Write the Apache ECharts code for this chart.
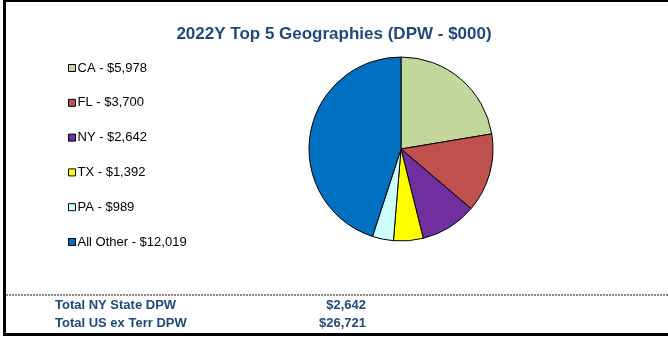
<!DOCTYPE html>
<html>
<head>
<meta charset="utf-8">
<script src="https://cdn.jsdelivr.net/npm/echarts@6/dist/echarts.min.js"></script>
<style>
  html, body { margin: 0; padding: 0; background: #fff; }
  #chart { width: 668px; height: 338px; }
</style>
</head>
<body>
<div id="chart"></div>
<script>
// Premium written by geography, 2022 ($000)
const geographies = ['CA', 'FL', 'NY', 'TX', 'PA', 'All Other'];
const dpwValues = [5978, 3700, 2642, 1392, 989, 12019];
const sliceColors = ['#C3D69B', '#C0504D', '#7030A0', '#FFFF00', '#CCFFFF', '#0070C0'];

// Summary rows under the chart
const summaryLabels = ['Total NY State DPW', 'Total US ex Terr DPW'];
const summaryValues = [2642, 26721];

const fmt = v => '$' + v.toLocaleString('en-US');
const navy = '#1F497D';
const FONT = 'Arial, "Liberation Sans", sans-serif';

const chart = echarts.init(document.getElementById('chart'), null, { renderer: 'canvas' });

const pieData = geographies.map((g, i) => ({
  name: g,
  value: dpwValues[i],
  itemStyle: { color: sliceColors[i] }
}));

const summaryGraphics = [];
summaryLabels.forEach((label, i) => {
  const y = 305 + i * 18;
  summaryGraphics.push({
    type: 'text', x: 55, y: y,
    style: { text: label, font: 'bold 13px ' + FONT, fill: navy, textVerticalAlign: 'middle' }
  });
  summaryGraphics.push({
    type: 'text', x: 366, y: y,
    style: { text: fmt(summaryValues[i]), font: 'bold 13px ' + FONT, fill: navy, textAlign: 'right', textVerticalAlign: 'middle' }
  });
});

chart.setOption({
  animation: false,
  backgroundColor: '#fff',
  title: {
    text: '2022Y Top 5 Geographies (DPW - $000)',
    left: 'center',
    top: 21,
    textStyle: { fontFamily: FONT, fontWeight: 'bold', fontSize: 17, color: navy }
  },
  legend: {
    orient: 'vertical',
    left: 63,
    top: 56,
    itemWidth: 7,
    itemHeight: 7,
    itemGap: 20.8,
    icon: 'rect',
    selectedMode: false,
    itemStyle: { borderColor: '#000', borderWidth: 1 },
    textStyle: { fontFamily: FONT, fontSize: 13, color: '#000', lineHeight: 14, padding: [0, 0, 0, -3] },
    formatter: name => name + ' - ' + fmt(dpwValues[geographies.indexOf(name)]),
    data: geographies
  },
  series: [{
    type: 'pie',
    center: [401, 149],
    radius: 92,
    startAngle: 90,
    clockwise: true,
    label: { show: false },
    labelLine: { show: false },
    emphasis: { disabled: true },
    itemStyle: { borderColor: '#000', borderWidth: 1 },
    data: pieData
  }],
  graphic: [
    // frame lines
    { type: 'rect', shape: { x: 3, y: 1, width: 3, height: 335 }, style: { fill: '#000' } },
    { type: 'rect', shape: { x: 3, y: 0, width: 665, height: 2 }, style: { fill: '#000' } },
    { type: 'rect', shape: { x: 3, y: 333, width: 665, height: 3 }, style: { fill: '#000' } },
    // dotted separator above the summary
    { type: 'line', shape: { x1: 6, y1: 295, x2: 668, y2: 295 }, style: { stroke: '#888', lineWidth: 2, lineDash: [2, 1] } }
  ].concat(summaryGraphics)
});
</script>
</body>
</html>
